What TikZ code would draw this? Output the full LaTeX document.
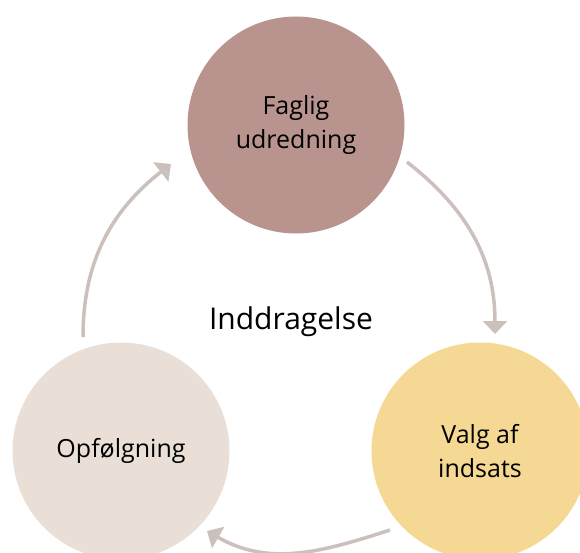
\documentclass[tikz,border=0pt]{standalone}
\usepackage{fontspec}
\setmainfont{Open Sans}
\usetikzlibrary{arrows.meta}
\definecolor{cTop}{HTML}{B9948F}
\definecolor{cLeft}{HTML}{E9DFD7}
\definecolor{cRight}{HTML}{F5D894}
\definecolor{cArrow}{HTML}{CBC0BC}
\tikzset{
  stage/.style={circle, minimum size=217pt, inner sep=0pt, align=center,
    font=\fontsize{25}{34.5}\selectfont, text=black},
  cycarrow/.style={draw=cArrow, line width=3.5pt,
    -{Triangle[width=24pt,length=13pt]}}
}
\begin{document}
\begin{tikzpicture}[x=1pt,y=-1pt]
\useasboundingbox (0,0) rectangle (580,553);
\node[stage, fill=cTop] (faglig) at (296,125) {Faglig\\udredning};
\node[stage, fill=cRight] (valg) at (480,451) {Valg af\\indsats};
\node[stage, fill=cLeft] (opf) at (121,451) {Opfølgning};
\node[font=\fontsize{30}{36}\selectfont] (indd) at (291,322) {Inddragelse};
\coordinate (a1s) at (407,162);
\coordinate (a1e) at (495,334);
\coordinate (a2s) at (390,530);
\coordinate (a2e) at (207,531);
\coordinate (a3s) at (83,337);
\coordinate (a3e) at (171,164);
\draw[cycarrow] (a1s) to[out=-38, in=90] (a1e);
\draw[cycarrow] (a2s) to[out=198, in=-30] (a2e);
\draw[cycarrow] (a3s) to[out=90, in=218] (a3e);
\end{tikzpicture}
\end{document}
